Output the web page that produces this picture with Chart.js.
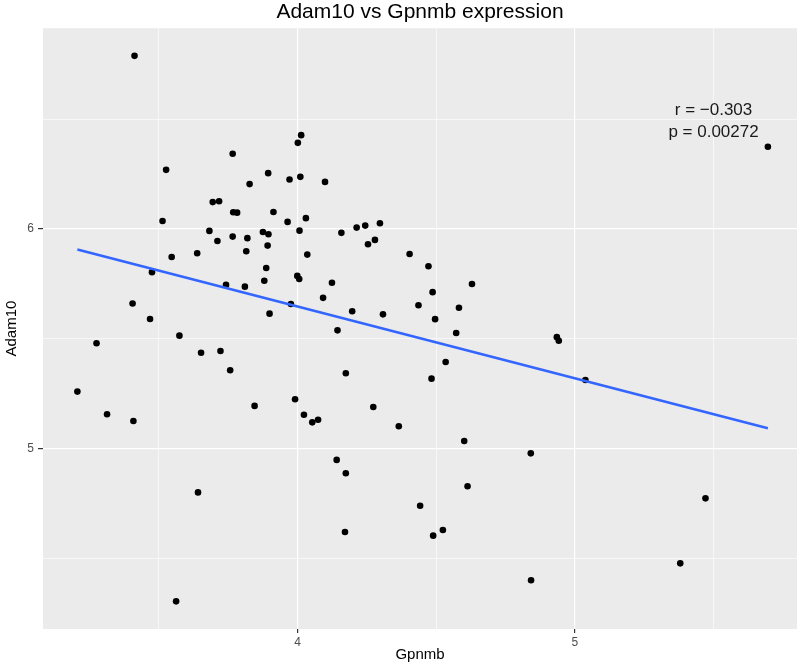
<!DOCTYPE html>
<html>
<head>
<meta charset="utf-8">
<script src="https://cdn.jsdelivr.net/npm/chart.js@4/dist/chart.umd.min.js"></script>
<style>
  body { margin: 0; background: #fff; }
  #wrap { width: 797px; height: 670px; position: relative; }
</style>
</head>
<body>
<div id="wrap"><canvas id="corrChart"></canvas></div>
<script>
// Gpnmb (x) and Adam10 (y) expression per sample
const gpnmb = [
  3.412, 3.526, 3.766, 4.013, 4.001, 3.894, 3.971, 4.010, 4.099, 3.827,
  3.694, 3.717, 3.768, 3.782, 3.913, 3.513, 3.964, 4.030, 3.682, 3.711,
  3.766, 3.819, 3.875, 3.895, 3.892, 4.007, 4.158, 4.213, 4.244, 4.297,
  4.254, 4.279, 3.546, 3.638, 3.815, 4.035, 3.475, 3.887, 3.999, 4.006,
  3.742, 3.810, 3.880, 4.124, 3.405, 3.976, 4.092, 3.468, 3.899, 4.197,
  4.308, 4.144, 3.574, 3.275, 3.652, 3.722, 3.757, 4.174, 3.206, 3.845,
  3.991, 4.273, 4.365, 3.313, 3.408, 4.023, 4.053, 4.074, 4.141, 4.174,
  3.641, 4.171, 3.562, 5.696, 4.404, 4.472, 4.629, 4.487, 4.436, 4.582,
  4.496, 4.572, 4.935, 4.942, 4.534, 4.483, 5.038, 4.601, 4.841, 4.613,
  4.442, 5.471, 4.524, 4.489, 5.380, 4.842
];
const adam10 = [
  6.788, 6.269, 6.342, 6.427, 6.392, 6.254, 6.225, 6.237, 6.214, 6.204,
  6.122, 6.126, 6.076, 6.074, 6.077, 6.036, 6.032, 6.049, 5.991, 5.945,
  5.965, 5.958, 5.986, 5.976, 5.924, 5.992, 5.982, 6.006, 6.015, 6.026,
  5.930, 5.950, 5.872, 5.889, 5.898, 5.883, 5.803, 5.822, 5.786, 5.772,
  5.745, 5.737, 5.764, 5.755, 5.660, 5.658, 5.686, 5.590, 5.614, 5.625,
  5.611, 5.538, 5.514, 5.479, 5.436, 5.444, 5.356, 5.343, 5.259, 5.194,
  5.224, 5.189, 5.101, 5.156, 5.125, 5.154, 5.119, 5.131, 4.948, 4.887,
  4.800, 4.620, 4.304, 6.374, 5.886, 5.830, 5.749, 5.712, 5.652, 5.641,
  5.589, 5.526, 5.507, 5.491, 5.394, 5.318, 5.312, 5.034, 4.978, 4.828,
  4.739, 4.773, 4.629, 4.603, 4.477, 4.400
];
const statLines = ['r = \u22120.303', 'p = 0.00272'];

const FONT = "'Liberation Sans', Arial, sans-serif";

// least squares fit, drawn across the range of the data
const linearFit = (xs, ys) => {
  const n = xs.length;
  const mx = xs.reduce((a, b) => a + b, 0) / n;
  const my = ys.reduce((a, b) => a + b, 0) / n;
  let sxy = 0, sxx = 0;
  for (let i = 0; i < n; i++) {
    sxy += (xs[i] - mx) * (ys[i] - my);
    sxx += (xs[i] - mx) ** 2;
  }
  const slope = sxy / sxx;
  const x0 = Math.min(...xs), x1 = Math.max(...xs);
  return [
    { x: x0, y: my + slope * (x0 - mx) },
    { x: x1, y: my + slope * (x1 - mx) }
  ];
};

const points = gpnmb.map((x, i) => ({ x: x, y: adam10[i] }));
const fit = linearFit(gpnmb, adam10);

const panelBg = {
  id: 'panelBg',
  beforeDraw: (chart) => {
    const { ctx, chartArea: a } = chart;
    ctx.save();
    ctx.fillStyle = '#EBEBEB';
    ctx.fillRect(a.left, a.top, a.right - a.left, a.bottom - a.top);
    ctx.restore();
  }
};

const statLabel = {
  id: 'statLabel',
  afterDatasetsDraw: (chart) => {
    const { ctx, scales } = chart;
    const cx = scales.x.getPixelForValue(5.5);
    const cy = scales.y.getPixelForValue(6.54);
    ctx.save();
    ctx.font = `17px ${FONT}`;
    ctx.fillStyle = '#1a1a1a';
    ctx.textAlign = 'center';
    ctx.textBaseline = 'middle';
    statLines.forEach((t, i) => ctx.fillText(t, cx, cy + i * 22));
    ctx.restore();
  }
};

const isMajor = (c) => Number.isInteger(c.tick.value);

new Chart(document.getElementById('corrChart'), {
  type: 'scatter',
  data: {
    datasets: [
      {
        type: 'line',
        data: fit,
        borderColor: '#3366FF',
        borderWidth: 2.6,
        pointRadius: 0,
        fill: false,
        order: 0
      },
      {
        data: points,
        backgroundColor: '#000',
        borderColor: '#000',
        borderWidth: 0,
        pointRadius: 3.3,
        order: 1
      }
    ]
  },
  options: {
    responsive: true,
    maintainAspectRatio: false,
    animation: false,
    layout: { padding: 0, autoPadding: false },
    plugins: {
      legend: { display: false },
      tooltip: { enabled: false },
      title: {
        display: true,
        text: 'Adam10 vs Gpnmb expression',
        fullSize: false,
        color: '#000',
        font: { family: FONT, size: 21, weight: 'normal' },
        padding: { top: 0, bottom: 3 }
      }
    },
    scales: {
      x: {
        type: 'linear',
        min: 3.082,
        max: 5.801,
        afterFit: (s) => { s.height = 41; },
        border: { display: false },
        grid: {
          color: '#fff',
          lineWidth: (c) => isMajor(c) ? 1.2 : 0.6,
          drawTicks: true,
          tickLength: 4,
          tickColor: (c) => isMajor(c) ? '#333' : 'rgba(0,0,0,0)',
          tickWidth: 1.2
        },
        ticks: {
          stepSize: 0.5,
          includeBounds: false,
          autoSkip: false,
          maxRotation: 0,
          padding: 2,
          color: '#4D4D4D',
          font: { family: FONT, size: 12 },
          callback: (v) => Number.isInteger(v) ? String(v) : ''
        },
        title: {
          display: true,
          text: 'Gpnmb',
          color: '#000',
          font: { family: FONT, size: 15 },
          padding: { top: 0, bottom: 6 }
        }
      },
      y: {
        type: 'linear',
        min: 4.178,
        max: 6.914,
        afterFit: (s) => { s.width = 43; },
        border: { display: false },
        grid: {
          color: '#fff',
          lineWidth: (c) => isMajor(c) ? 1.2 : 0.6,
          drawTicks: true,
          tickLength: 5,
          tickColor: (c) => isMajor(c) ? '#333' : 'rgba(0,0,0,0)',
          tickWidth: 1.2
        },
        ticks: {
          stepSize: 0.5,
          includeBounds: false,
          autoSkip: false,
          padding: 4,
          color: '#4D4D4D',
          font: { family: FONT, size: 12 },
          callback: (v) => Number.isInteger(v) ? String(v) : ''
        },
        title: {
          display: true,
          text: 'Adam10',
          color: '#000',
          font: { family: FONT, size: 15 },
          padding: { top: 3, bottom: 0 }
        }
      }
    }
  },
  plugins: [panelBg, statLabel]
});
</script>
</body>
</html>
